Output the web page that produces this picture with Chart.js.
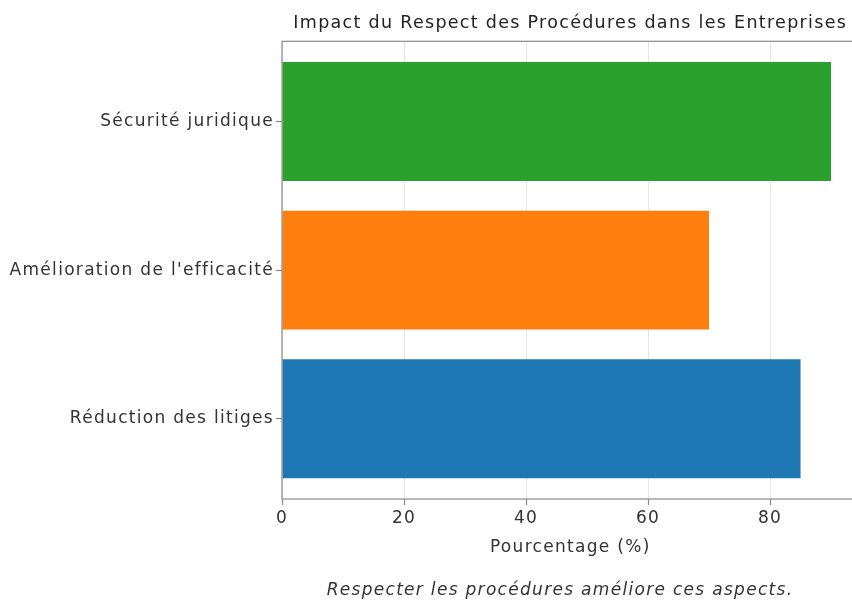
<!DOCTYPE html>
<html lang="fr">
<head>
<meta charset="utf-8">
<title>Impact du Respect des Procédures</title>
<script src="https://cdn.jsdelivr.net/npm/chart.js@4.4.0/dist/chart.umd.min.js"></script>
<style>
  html, body { margin: 0; padding: 0; background: #fff; overflow: hidden; }
  #wrap { position: relative; width: 860px; height: 600px; }
  #caption {
    position: absolute; left: 0; width: 1120px; top: 579px;
    text-align: center; font-family: 'DejaVu Sans', sans-serif;
    font-style: italic; font-size: 17px; letter-spacing: 1.3px; color: #333;
  }
</style>
</head>
<body>
<div id="wrap">
  <canvas id="chart" width="860" height="600"></canvas>
  <div id="caption">Respecter les procédures améliore ces aspects.</div>
</div>
<script>
// bottom to top, as matplotlib draws barh
var categories = ['Réduction des litiges', "Amélioration de l'efficacité", 'Sécurité juridique'];
var values = [85, 70, 90];
var colors = ['#1f77b4', '#ff7f0e', '#2ca02c'];
var xTicks = [0, 20, 40, 60, 80];

var FONT = 'DejaVu Sans';
var TEXT = '#333333';
var SPINE = '#8a8a8a';

// the original font is wider, widen ours a bit
var spacingPlugin = {
  id: 'spacing',
  beforeLayout: function(chart) { chart.ctx.letterSpacing = '1.3px'; },
  beforeDraw: function(chart) { chart.ctx.letterSpacing = '1.3px'; }
};

// frame round the plot area (all four spines)
var framePlugin = {
  id: 'frame',
  afterDraw: function(chart) {
    var a = chart.chartArea, ctx = chart.ctx;
    ctx.save();
    ctx.strokeStyle = SPINE;
    ctx.lineWidth = 1.2;
    ctx.strokeRect(a.left, a.top, a.right - a.left, a.bottom - a.top);
    ctx.restore();
  }
};

new Chart(document.getElementById('chart').getContext('2d'), {
  type: 'bar',
  data: {
    datasets: [{
      data: values.map(function(v, i) { return { x: v, y: i }; }),
      backgroundColor: colors,
      borderWidth: 0,
      barPercentage: 0.8,
      categoryPercentage: 1.0
    }]
  },
  options: {
    indexAxis: 'y',
    responsive: false,
    animation: false,
    layout: { padding: { left: 0, right: 1.5, top: 0, bottom: 42 } },
    plugins: {
      legend: { display: false },
      tooltip: { enabled: false },
      title: {
        display: true,
        fullSize: false,
        text: 'Impact du Respect des Procédures dans les Entreprises',
        color: '#222',
        font: { family: FONT, size: 17.5, weight: 'normal', lineHeight: 1.2 },
        padding: { top: 12.5, bottom: 7.8 }
      }
    },
    scales: {
      x: {
        type: 'linear',
        min: 0,
        max: 94.5,
        z: 1,
        afterBuildTicks: function(s) { s.ticks = xTicks.map(function(v) { return { value: v }; }); },
        grid: {
          color: 'rgba(0,0,0,0.10)',
          borderDash: [2, 2],
          lineWidth: 1,
          drawTicks: true,
          tickLength: 6,
          tickColor: SPINE,
          tickBorderDash: [],
          tickWidth: 1.2
        },
        border: { display: false },
        ticks: { color: TEXT, font: { family: FONT, size: 17 }, padding: 3 },
        title: {
          display: true,
          text: 'Pourcentage (%)',
          color: TEXT,
          font: { family: FONT, size: 17, lineHeight: 1.2 },
          padding: { top: 4, bottom: 0 }
        },
        afterFit: function(s) { s.height = 59; }
      },
      y: {
        type: 'linear',
        min: -0.54,
        max: 2.54,
        offset: false,
        afterBuildTicks: function(s) { s.ticks = categories.map(function(c, i) { return { value: i }; }); },
        grid: {
          offset: false,
          drawOnChartArea: false,
          drawTicks: true,
          tickLength: 6,
          tickColor: SPINE,
          tickWidth: 1.2
        },
        border: { display: false },
        ticks: {
          color: TEXT,
          font: { family: FONT, size: 17 },
          padding: 2,
          callback: function(v) { return categories[v]; }
        },
        afterFit: function(s) { s.width = 282; }
      }
    }
  },
  plugins: [spacingPlugin, framePlugin]
});
</script>
</body>
</html>
